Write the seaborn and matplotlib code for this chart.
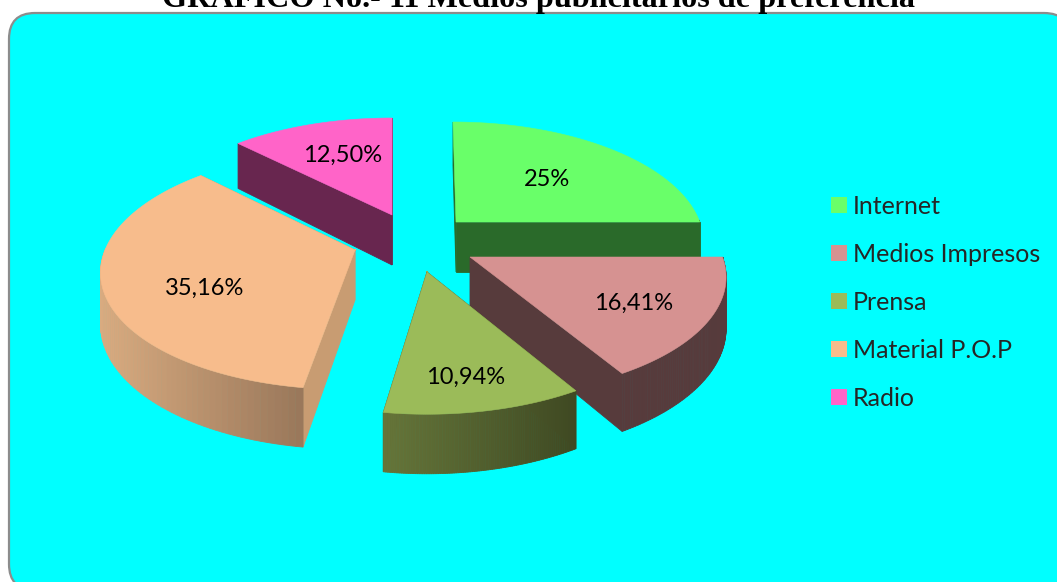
import numpy as np
import pandas as pd
import seaborn as sns
import matplotlib
matplotlib.use("Agg")
import matplotlib.pyplot as plt
from matplotlib.patches import FancyBboxPatch

# ---- data ----
categories = ["Internet", "Medios Impresos", "Prensa", "Material P.O.P", "Radio"]
shares = [25.0, 16.41, 10.94, 35.16, 12.50]
share_labels = ["25%", "16,41%", "10,94%", "35,16%", "12,50%"]
title_text = "GRAFICO No.- 11 Medios publicitarios de preferencia"

# ---- style ----
top_colors = ["#69ff69", "#d69291", "#9bbb59", "#f7bc8c", "#ff64c8"]
wall_left = ["#2a6a2a", "#573b3c", "#667539", "#d9ab80", "#68264f"]
wall_right = ["#2a6a2a", "#573b3c", "#3f4922", "#99775a", "#68264f"]
radial_wall = ["#2a6a2a", "#573b3c", "#4a5428", "#c89c72", "#68264f"]
apex_x = [456, 470, 427, 355, 392]
apex_y = [222, 257, 272, 250, 215]
scale_x = [0.975, 1.01, 1.0, 1.0, 0.97]
scale_y = [1.0, 1.01, 1.03, 1.01, 0.97]
skew_x = [0.03, 0.015, 0.0, -0.06, 0.0]
label_dx = [91, 164, 39, -150, -49]
label_dy = [-42, 46, 105, 38, -60]
draw_order = [4, 0, 1, 3, 2]
RX, RY, PERSP, DEPTH = 250.0, 116.0, 0.16, 50.0

sns.set_theme(style="white")
plt.rcParams["font.family"] = ["Lato", "DejaVu Sans"]

fig = plt.figure(figsize=(10.57, 5.82), dpi=100, facecolor="white")
ax = fig.add_axes([0, 0, 1, 1])
ax.set_xlim(0, 1057)
ax.set_ylim(582, 0)
ax.axis("off")

ax.add_patch(FancyBboxPatch((9 + 26, 13 + 26), 1061 - 52, 577 - 52,
                            boxstyle="round,pad=26,rounding_size=26",
                            fc="#00ffff", ec="#8c8c8c", lw=1.6, zorder=0, clip_on=True))


def project(theta, radius=1.0):
    u = radius * np.cos(theta)
    v = -radius * np.sin(theta)
    w = 1 - PERSP * v
    return RX * u / w, RY * v / w, DEPTH / w


ends = 90 - np.cumsum(shares) * 3.6
starts = np.r_[90, ends[:-1]]

df = pd.DataFrame({"medio": categories, "x": apex_x, "y": apex_y})
sns.scatterplot(data=df, x="x", y="y", hue="medio", hue_order=categories,
                palette=sns.color_palette(top_colors), marker="s", s=1,
                linewidth=0, ax=ax, zorder=1, legend="full")
ax.set_xlim(0, 1057)
ax.set_ylim(582, 0)

z = 2
for i in draw_order:
    cx, cy = apex_x[i], apex_y[i]
    th = np.radians(np.linspace(starts[i], ends[i], 90))
    px, py, pd_ = project(th)
    py = py * scale_y[i]
    ax_x, ax_y = cx + px * scale_x[i] + skew_x[i] * py, cy + py
    # radial walls first, the curved front wall goes over them
    for j in (0, -1):
        ax.fill([cx, ax_x[j], ax_x[j], cx],
                [cy, ax_y[j], ax_y[j] + pd_[j], cy + DEPTH],
                color=radial_wall[i], lw=0.6, zorder=z)
    # curved wall, only the part that faces the viewer, shaded along x
    xmin, xmax = ax_x.min(), ax_x.max()
    c0 = np.array(matplotlib.colors.to_rgb(wall_left[i]))
    c1 = np.array(matplotlib.colors.to_rgb(wall_right[i]))
    for k in range(len(th) - 1):
        if np.sin(th[k]) > 0 and np.sin(th[k + 1]) > 0:
            continue
        f = ((ax_x[k] + ax_x[k + 1]) / 2 - xmin) / max(xmax - xmin, 1)
        col = c0 + (c1 - c0) * f
        ax.fill([ax_x[k], ax_x[k + 1], ax_x[k + 1], ax_x[k]],
                [ax_y[k], ax_y[k + 1], ax_y[k + 1] + pd_[k + 1], ax_y[k] + pd_[k]],
                color=col, lw=0.6, zorder=z + 0.1)
    # top face
    ax.fill(np.r_[cx, ax_x], np.r_[cy, ax_y], color=top_colors[i], lw=0.4, zorder=z + 0.2)
    ax.text(cx + label_dx[i], cy + label_dy[i], share_labels[i], ha="center", va="center",
            fontsize=17, color="black", zorder=20)
    z += 1

ax.text(538, 7.5, title_text, ha="center", va="baseline", fontsize=23.2, fontweight="bold",
        family="Liberation Serif", color="black", zorder=21)

sns.move_legend(ax, "upper left", bbox_to_anchor=(828, 195), bbox_transform=ax.transData,
                frameon=False, title=None, fontsize=18, labelspacing=1.0,
                handlelength=0.9, handletextpad=0.1, borderpad=0, borderaxespad=0)
leg = ax.get_legend()
leg.set_zorder(22)
for h in leg.legend_handles:
    if hasattr(h, "set_markersize"):
        h.set_markersize(11)
        h.set_markeredgewidth(0)
    else:
        h.set_sizes([120])
ax.set_xlabel("")
ax.set_ylabel("")

fig.savefig("out.png", dpi=100, facecolor="white")
